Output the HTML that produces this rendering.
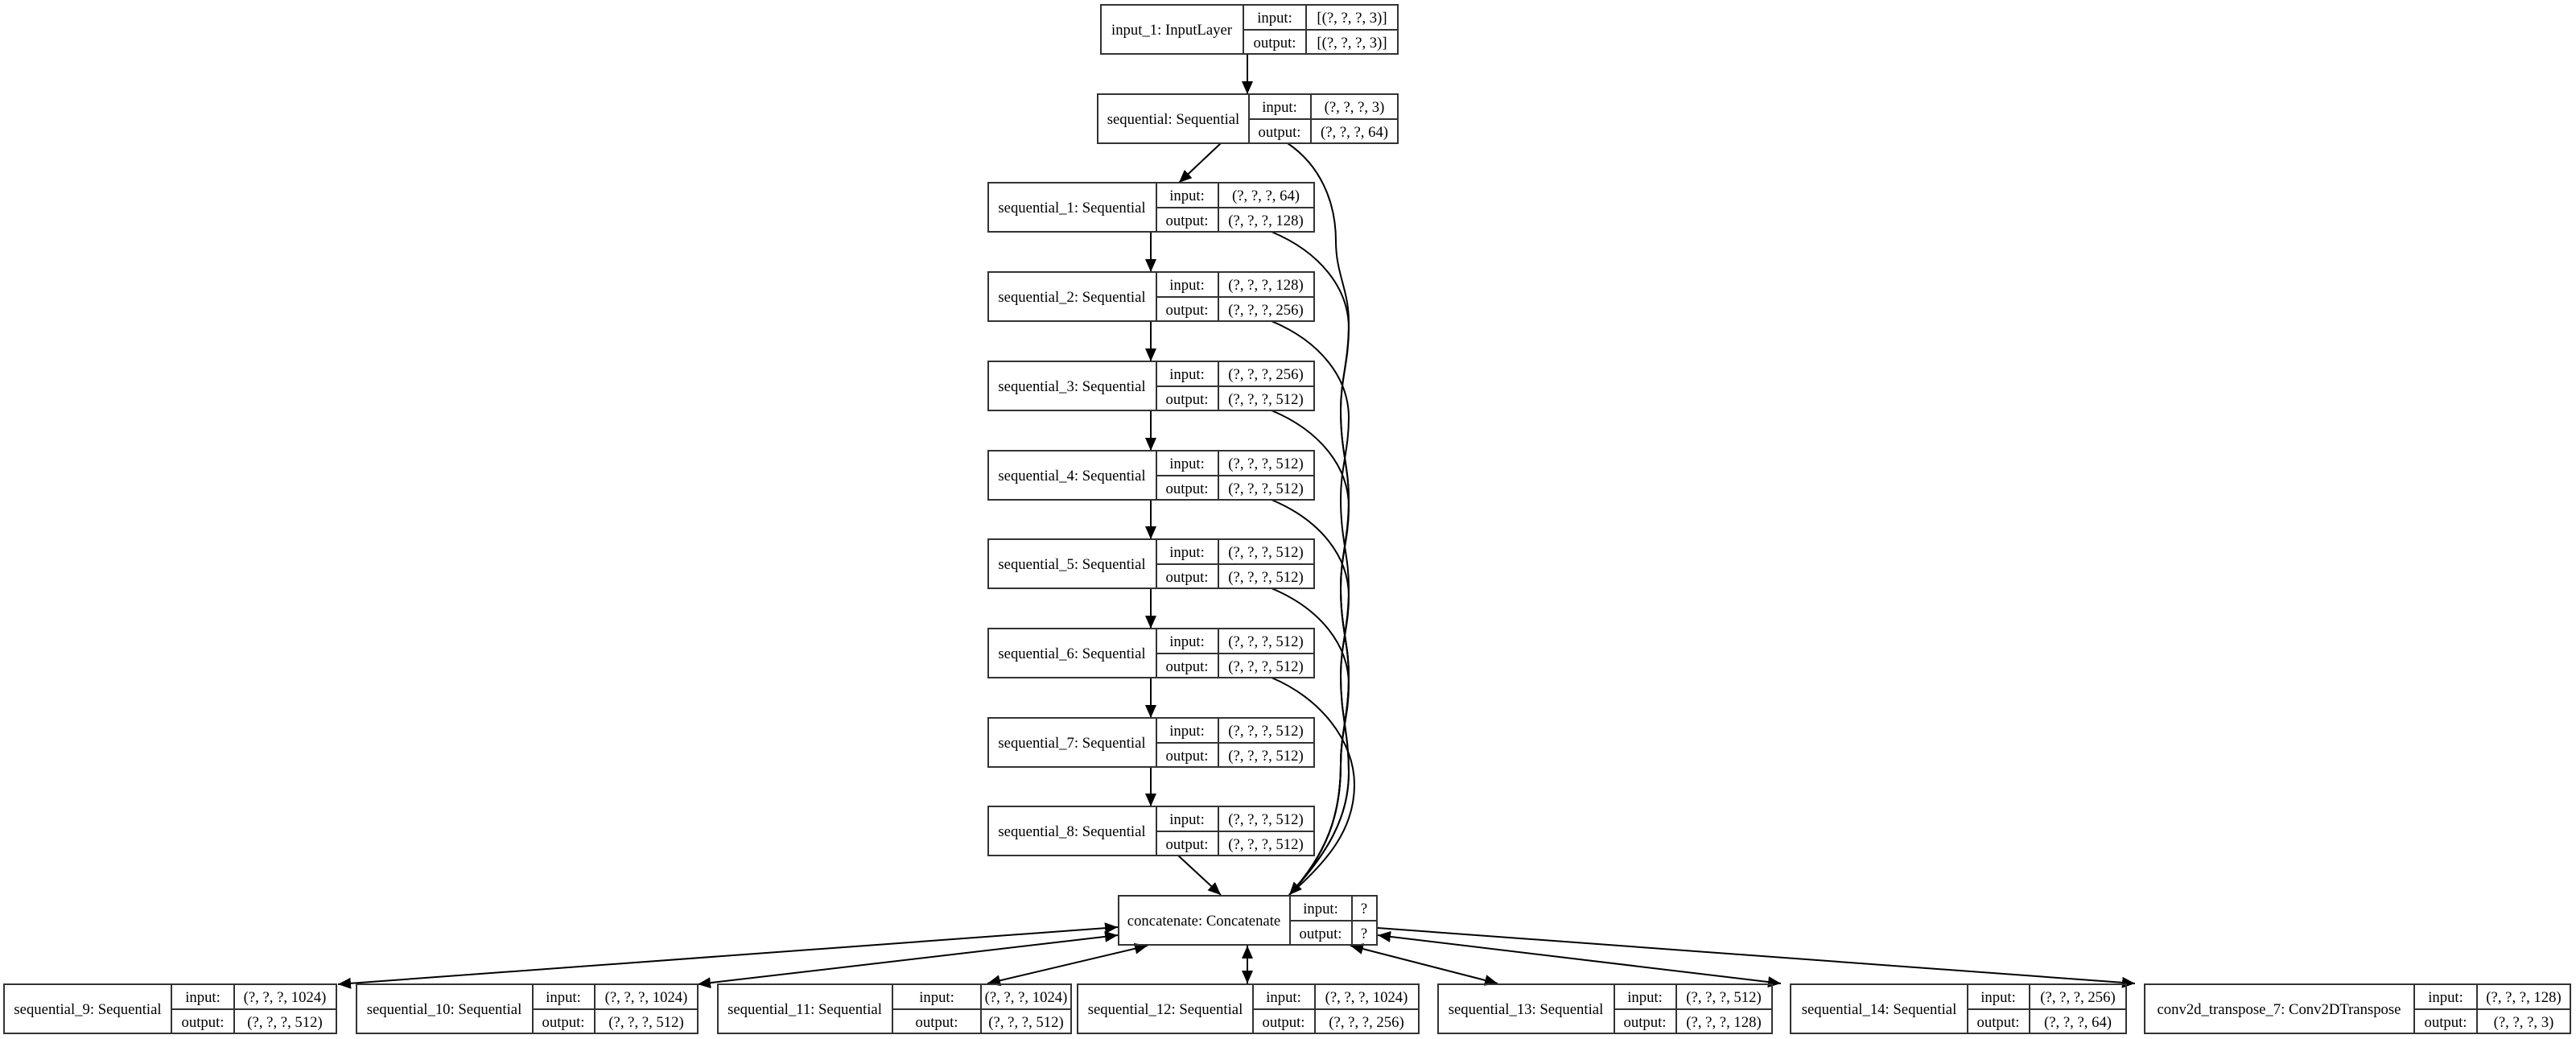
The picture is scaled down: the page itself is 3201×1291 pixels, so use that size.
<!DOCTYPE html>
<html><head><meta charset="utf-8"><style>
html,body{margin:0;padding:0;background:#fff;}
svg{display:block;}
text{font-family:"Liberation Serif",serif;font-size:18.7px;fill:#000;}
</style></head><body>
<svg width="3201" height="1291" viewBox="0 0 3201 1291" xmlns="http://www.w3.org/2000/svg">
<defs>
<marker id="a" markerUnits="userSpaceOnUse" markerWidth="18" markerHeight="14" refX="16" refY="7" orient="auto"><path d="M0,0 L16,7 L0,14 Z" fill="#000"/></marker>
<marker id="s" markerUnits="userSpaceOnUse" markerWidth="18" markerHeight="14" refX="16" refY="7" orient="auto-start-reverse"><path d="M0,0 L16,7 L0,14 Z" fill="#000"/></marker>
</defs>
<g fill="none" stroke="#000" stroke-width="2">
<!-- vertical chain -->
<line x1="1550" y1="67" x2="1550" y2="117" marker-end="url(#a)"/>
<line x1="1517" y1="178" x2="1465" y2="227" marker-end="url(#a)"/>
<line x1="1430" y1="288" x2="1430" y2="338" marker-end="url(#a)"/>
<line x1="1430" y1="399" x2="1430" y2="449" marker-end="url(#a)"/>
<line x1="1430" y1="510" x2="1430" y2="560" marker-end="url(#a)"/>
<line x1="1430" y1="621" x2="1430" y2="670" marker-end="url(#a)"/>
<line x1="1430" y1="731" x2="1430" y2="781" marker-end="url(#a)"/>
<line x1="1430" y1="842" x2="1430" y2="892" marker-end="url(#a)"/>
<line x1="1430" y1="953" x2="1430" y2="1002" marker-end="url(#a)"/>
<line x1="1464" y1="1063" x2="1517" y2="1112" marker-end="url(#a)"/>
<!-- skip curves -->
<path d="M1600,178 C1640,205 1660,250 1660,300 C1660,340 1676,360 1676,400 C1676,450 1666,470 1666,510 C1666,560 1676,580 1676,620 C1676,670 1666,690 1666,730 C1666,780 1676,800 1676,840 C1676,890 1666,910 1666,950 C1666,1010 1650,1060 1602,1112" marker-end="url(#a)"/>
<path d="M1580,288 C1640,313 1676,358 1676,408 C1676,450 1666,470 1666,510 C1666,560 1676,580 1676,620 C1676,670 1666,690 1666,730 C1666,780 1676,800 1676,840 C1676,890 1666,910 1666,950 C1666,1010 1650,1060 1602,1112"/>
<path d="M1580,399 C1640,424 1676,469 1676,519 C1676,560 1666,580 1666,620 C1666,670 1676,690 1676,730 C1676,780 1666,800 1666,840 C1666,890 1676,910 1676,960 C1676,1015 1650,1060 1602,1112"/>
<path d="M1580,510 C1640,535 1676,580 1676,630 C1676,670 1666,690 1666,730 C1666,780 1676,800 1676,840 C1676,890 1666,910 1666,950 C1666,1010 1650,1060 1602,1112"/>
<path d="M1580,621 C1640,646 1676,691 1676,741 C1676,780 1666,800 1666,840 C1666,890 1676,910 1676,960 C1676,1015 1650,1060 1602,1112"/>
<path d="M1580,731 C1640,756 1676,801 1676,851 C1676,890 1666,910 1666,950 C1666,1010 1650,1060 1602,1112"/>
<path d="M1580,842 C1640,867 1683,920 1683,975 C1683,1030 1650,1070 1602,1112"/>
<!-- bottom fan -->
<line x1="420" y1="1223" x2="1389" y2="1152" marker-start="url(#s)" marker-end="url(#a)"/>
<line x1="867" y1="1223" x2="1389" y2="1162" marker-start="url(#s)" marker-end="url(#a)"/>
<line x1="1227" y1="1222" x2="1426" y2="1175" marker-start="url(#s)" marker-end="url(#a)"/>
<line x1="1550" y1="1222" x2="1550" y2="1175" marker-start="url(#s)" marker-end="url(#a)"/>
<line x1="1861" y1="1222" x2="1678" y2="1175" marker-start="url(#s)" marker-end="url(#a)"/>
<line x1="2213" y1="1222" x2="1712" y2="1162" marker-start="url(#s)" marker-end="url(#a)"/>
<line x1="2653" y1="1222" x2="1712" y2="1153" marker-start="url(#s)"/>
</g>
<g id="nodes" fill="#fff" stroke="#333" stroke-width="2">
</g>
<g fill="none" stroke="#333" stroke-width="2">
<!-- node boxes: rect, dividers -->
<rect x="1368" y="6" width="369" height="61"/><line x1="1545" y1="6" x2="1545" y2="67"/><line x1="1623" y1="6" x2="1623" y2="67"/><line x1="1545" y1="37" x2="1737" y2="37"/>
<rect x="1364" y="117" width="373" height="61"/><line x1="1552" y1="117" x2="1552" y2="178"/><line x1="1629" y1="117" x2="1629" y2="178"/><line x1="1552" y1="148" x2="1737" y2="148"/>
<rect x="1228" y="227" width="405" height="61"/><line x1="1437" y1="227" x2="1437" y2="288"/><line x1="1514" y1="227" x2="1514" y2="288"/><line x1="1437" y1="258" x2="1633" y2="258"/>
<rect x="1228" y="338" width="405" height="61"/><line x1="1437" y1="338" x2="1437" y2="399"/><line x1="1514" y1="338" x2="1514" y2="399"/><line x1="1437" y1="369" x2="1633" y2="369"/>
<rect x="1228" y="449" width="405" height="61"/><line x1="1437" y1="449" x2="1437" y2="510"/><line x1="1514" y1="449" x2="1514" y2="510"/><line x1="1437" y1="480" x2="1633" y2="480"/>
<rect x="1228" y="560" width="405" height="61"/><line x1="1437" y1="560" x2="1437" y2="621"/><line x1="1514" y1="560" x2="1514" y2="621"/><line x1="1437" y1="591" x2="1633" y2="591"/>
<rect x="1228" y="670" width="405" height="61"/><line x1="1437" y1="670" x2="1437" y2="731"/><line x1="1514" y1="670" x2="1514" y2="731"/><line x1="1437" y1="701" x2="1633" y2="701"/>
<rect x="1228" y="781" width="405" height="61"/><line x1="1437" y1="781" x2="1437" y2="842"/><line x1="1514" y1="781" x2="1514" y2="842"/><line x1="1437" y1="812" x2="1633" y2="812"/>
<rect x="1228" y="892" width="405" height="61"/><line x1="1437" y1="892" x2="1437" y2="953"/><line x1="1514" y1="892" x2="1514" y2="953"/><line x1="1437" y1="923" x2="1633" y2="923"/>
<rect x="1228" y="1002" width="405" height="61"/><line x1="1437" y1="1002" x2="1437" y2="1063"/><line x1="1514" y1="1002" x2="1514" y2="1063"/><line x1="1437" y1="1033" x2="1633" y2="1033"/>
<rect x="1390" y="1113" width="321" height="61"/><line x1="1603" y1="1113" x2="1603" y2="1174"/><line x1="1680" y1="1113" x2="1680" y2="1174"/><line x1="1603" y1="1144" x2="1711" y2="1144"/>
<rect x="5" y="1223" width="413" height="61"/><line x1="213" y1="1223" x2="213" y2="1284"/><line x1="291" y1="1223" x2="291" y2="1284"/><line x1="213" y1="1254" x2="418" y2="1254"/>
<rect x="443" y="1223" width="424" height="61"/><line x1="662" y1="1223" x2="662" y2="1284"/><line x1="739" y1="1223" x2="739" y2="1284"/><line x1="662" y1="1254" x2="867" y2="1254"/>
<rect x="892" y="1223" width="439" height="61"/><line x1="1109" y1="1223" x2="1109" y2="1284"/><line x1="1219" y1="1223" x2="1219" y2="1284"/><line x1="1109" y1="1254" x2="1331" y2="1254"/>
<rect x="1339" y="1223" width="424" height="61"/><line x1="1557" y1="1223" x2="1557" y2="1284"/><line x1="1634" y1="1223" x2="1634" y2="1284"/><line x1="1557" y1="1254" x2="1763" y2="1254"/>
<rect x="1787" y="1223" width="415" height="61"/><line x1="2006" y1="1223" x2="2006" y2="1284"/><line x1="2083" y1="1223" x2="2083" y2="1284"/><line x1="2006" y1="1254" x2="2202" y2="1254"/>
<rect x="2225" y="1223" width="417" height="61"/><line x1="2445" y1="1223" x2="2445" y2="1284"/><line x1="2522" y1="1223" x2="2522" y2="1284"/><line x1="2445" y1="1254" x2="2642" y2="1254"/>
<rect x="2665" y="1223" width="529" height="61"/><line x1="3000" y1="1223" x2="3000" y2="1284"/><line x1="3078" y1="1223" x2="3078" y2="1284"/><line x1="3000" y1="1254" x2="3194" y2="1254"/>
</g>
<g text-anchor="middle">
<text x="1456" y="43">input_1: InputLayer</text><text x="1584" y="28">input:</text><text x="1584" y="59">output:</text><text x="1680" y="28">[(?, ?, ?, 3)]</text><text x="1680" y="59">[(?, ?, ?, 3)]</text>
<text x="1458" y="154">sequential: Sequential</text><text x="1590" y="139">input:</text><text x="1590" y="170">output:</text><text x="1683" y="139">(?, ?, ?, 3)</text><text x="1683" y="170">(?, ?, ?, 64)</text>
<text x="1332" y="264">sequential_1: Sequential</text><text x="1475" y="249">input:</text><text x="1475" y="280">output:</text><text x="1573" y="249">(?, ?, ?, 64)</text><text x="1573" y="280">(?, ?, ?, 128)</text>
<text x="1332" y="375">sequential_2: Sequential</text><text x="1475" y="360">input:</text><text x="1475" y="391">output:</text><text x="1573" y="360">(?, ?, ?, 128)</text><text x="1573" y="391">(?, ?, ?, 256)</text>
<text x="1332" y="486">sequential_3: Sequential</text><text x="1475" y="471">input:</text><text x="1475" y="502">output:</text><text x="1573" y="471">(?, ?, ?, 256)</text><text x="1573" y="502">(?, ?, ?, 512)</text>
<text x="1332" y="597">sequential_4: Sequential</text><text x="1475" y="582">input:</text><text x="1475" y="613">output:</text><text x="1573" y="582">(?, ?, ?, 512)</text><text x="1573" y="613">(?, ?, ?, 512)</text>
<text x="1332" y="707">sequential_5: Sequential</text><text x="1475" y="692">input:</text><text x="1475" y="723">output:</text><text x="1573" y="692">(?, ?, ?, 512)</text><text x="1573" y="723">(?, ?, ?, 512)</text>
<text x="1332" y="818">sequential_6: Sequential</text><text x="1475" y="803">input:</text><text x="1475" y="834">output:</text><text x="1573" y="803">(?, ?, ?, 512)</text><text x="1573" y="834">(?, ?, ?, 512)</text>
<text x="1332" y="929">sequential_7: Sequential</text><text x="1475" y="914">input:</text><text x="1475" y="945">output:</text><text x="1573" y="914">(?, ?, ?, 512)</text><text x="1573" y="945">(?, ?, ?, 512)</text>
<text x="1332" y="1039">sequential_8: Sequential</text><text x="1475" y="1024">input:</text><text x="1475" y="1055">output:</text><text x="1573" y="1024">(?, ?, ?, 512)</text><text x="1573" y="1055">(?, ?, ?, 512)</text>
<text x="1496" y="1150">concatenate: Concatenate</text><text x="1641" y="1135">input:</text><text x="1641" y="1166">output:</text><text x="1695" y="1135">?</text><text x="1695" y="1166">?</text>
<text x="109" y="1260">sequential_9: Sequential</text><text x="252" y="1245">input:</text><text x="252" y="1276">output:</text><text x="354" y="1245">(?, ?, ?, 1024)</text><text x="354" y="1276">(?, ?, ?, 512)</text>
<text x="552" y="1260">sequential_10: Sequential</text><text x="700" y="1245">input:</text><text x="700" y="1276">output:</text><text x="803" y="1245">(?, ?, ?, 1024)</text><text x="803" y="1276">(?, ?, ?, 512)</text>
<text x="1000" y="1260">sequential_11: Sequential</text><text x="1164" y="1245">input:</text><text x="1164" y="1276">output:</text><text x="1275" y="1245">(?, ?, ?, 1024)</text><text x="1275" y="1276">(?, ?, ?, 512)</text>
<text x="1448" y="1260">sequential_12: Sequential</text><text x="1595" y="1245">input:</text><text x="1595" y="1276">output:</text><text x="1698" y="1245">(?, ?, ?, 1024)</text><text x="1698" y="1276">(?, ?, ?, 256)</text>
<text x="1896" y="1260">sequential_13: Sequential</text><text x="2044" y="1245">input:</text><text x="2044" y="1276">output:</text><text x="2142" y="1245">(?, ?, ?, 512)</text><text x="2142" y="1276">(?, ?, ?, 128)</text>
<text x="2335" y="1260">sequential_14: Sequential</text><text x="2483" y="1245">input:</text><text x="2483" y="1276">output:</text><text x="2582" y="1245">(?, ?, ?, 256)</text><text x="2582" y="1276">(?, ?, ?, 64)</text>
<text x="2832" y="1260">conv2d_transpose_7: Conv2DTranspose</text><text x="3039" y="1245">input:</text><text x="3039" y="1276">output:</text><text x="3136" y="1245">(?, ?, ?, 128)</text><text x="3136" y="1276">(?, ?, ?, 3)</text>
</g>
</svg>
</body></html>
